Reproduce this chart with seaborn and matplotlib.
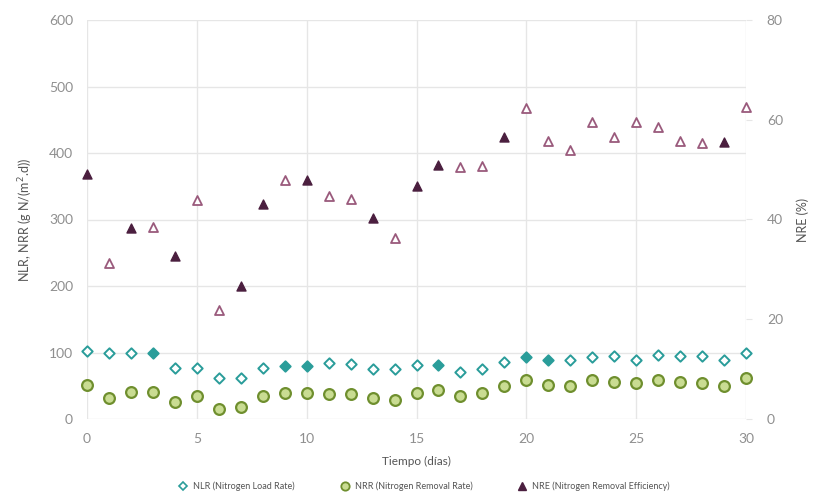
import numpy as np
import pandas as pd
import seaborn as sns
import matplotlib.pyplot as plt
from matplotlib.lines import Line2D

days = list(range(31))
nlr = [102, 100, 100, 100, 77, 77, 61, 61, 76, 80, 80, 84, 82, 75, 75, 81,
       81, 70, 75, 85, 93, 89, 89, 93, 94, 88, 96, 95, 94, 88, 99]
nrr = [51, 32, 40, 40, 26, 35, 15, 18, 34, 39, 39, 38, 37, 31, 29, 39,
       43, 35, 39, 49, 59, 51, 49, 58, 56, 54, 59, 55, 54, 49, 62]
nre = [49.1, 31.3, 38.3, 38.5, 32.6, 43.9, 21.9, 26.6, 43.1, 47.9, 47.9, 44.8,
       44.1, 40.3, 36.3, 46.7, 51.0, 50.6, 50.8, 56.5, 62.3, 55.8, 54.0, 59.5,
       56.5, 59.5, 58.5, 55.7, 55.3, 55.5, 62.6]
nlr_filled = [3, 9, 10, 16, 20, 21]
nre_filled = [0, 2, 4, 7, 8, 10, 13, 15, 16, 19, 29]

labels = ["NLR (Nitrogen Load Rate)", "NRR (Nitrogen Removal Rate)",
          "NRE (Nitrogen Removal Efficiency)"]

df = pd.DataFrame({"day": days, "nlr": nlr, "nrr": nrr, "nre": nre})
df["nlr_fill"] = df["day"].isin(nlr_filled)
df["nre_fill"] = df["day"].isin(nre_filled)

sns.set_style("white")
plt.rcParams["font.family"] = ["Lato", "DejaVu Sans"]

teal = "#2a9d9a"
olive = "#6f8f2e"
olive_face = "#c9dc92"
mauve = "#9a5a7c"
plum = "#4b1f3f"
grey = "#8f8f8f"
gridc = "#e6e6e6"

fig = plt.figure(figsize=(8.14, 4.93), dpi=100)
ax = fig.add_axes([87 / 814, 1 - 419 / 493, (746 - 87) / 814, (419 - 20) / 493])
ax2 = ax.twinx()

# NLR diamonds
sns.scatterplot(data=df[~df["nlr_fill"]], x="day", y="nlr", ax=ax, marker="D",
                s=28, facecolor="white", edgecolor=teal, linewidth=1.4,
                clip_on=False, zorder=3)
sns.scatterplot(data=df[df["nlr_fill"]], x="day", y="nlr", ax=ax, marker="D",
                s=28, color=teal, edgecolor=teal, linewidth=1.4,
                clip_on=False, zorder=3)
# NRR circles
sns.scatterplot(data=df, x="day", y="nrr", ax=ax, marker="o", s=60,
                facecolor=olive_face, edgecolor=olive, linewidth=1.6,
                clip_on=False, zorder=3)
# NRE triangles
sns.scatterplot(data=df[~df["nre_fill"]], x="day", y="nre", ax=ax2, marker="^",
                s=42, facecolor="white", edgecolor=mauve, linewidth=1.3,
                clip_on=False, zorder=3)
sns.scatterplot(data=df[df["nre_fill"]], x="day", y="nre", ax=ax2, marker="^",
                s=42, color=plum, edgecolor=plum, linewidth=1.0,
                clip_on=False, zorder=3)

ax.set_xlim(0, 30)
ax.set_ylim(0, 600)
ax.set_xticks(range(0, 31, 5))
ax.set_yticks(range(0, 601, 100))
ax2.set_ylim(0, 80)
ax2.set_yticks(range(0, 81, 20))

ax.grid(True, color=gridc, linewidth=1)
ax.set_axisbelow(True)
for a in (ax, ax2):
    for sp in a.spines.values():
        sp.set_visible(False)
ax.tick_params(axis="both", colors=grey, labelsize=10, length=0, pad=10)
ax2.tick_params(axis="y", colors=grey, labelsize=10, length=4, width=0.8,
                pad=11)
ax2.tick_params(axis="y", color=gridc)

ax.set_xlabel("Tiempo (días)", fontsize=8.5, color="#555555", labelpad=8)
ax.set_ylabel("NLR, NRR (g N/(m$^2$.d))", fontsize=9, color="#555555",
              labelpad=10)
ax2.set_ylabel("NRE (%)", fontsize=9, color="#555555", labelpad=10)

handles = [
    Line2D([], [], marker="D", linestyle="none", markersize=4.5,
           markerfacecolor="white", markeredgecolor=teal, markeredgewidth=1.2),
    Line2D([], [], marker="o", linestyle="none", markersize=6,
           markerfacecolor=olive_face, markeredgecolor=olive,
           markeredgewidth=1.3),
    Line2D([], [], marker="^", linestyle="none", markersize=6,
           markerfacecolor=plum, markeredgecolor=plum),
]
fig.legend(handles, labels, loc="center", bbox_to_anchor=(422 / 814, 1 - 486 / 493),
           ncol=3, frameon=False, fontsize=6.5, handletextpad=0.1,
           columnspacing=4.5, labelcolor="#555555")

fig.savefig("out.png", dpi=100)
